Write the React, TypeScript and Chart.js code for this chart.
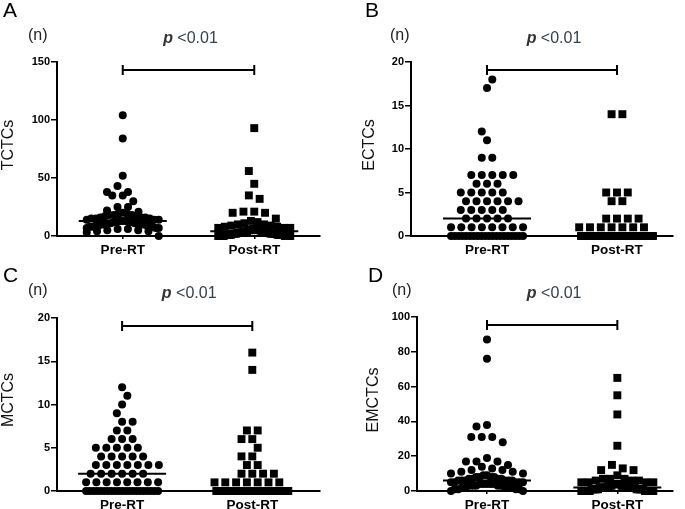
import React, { useEffect, useRef } from "react";
import { Chart, registerables } from "chart.js";
Chart.register(...registerables);

const categories = ["Pre-RT", "Post-RT"];

// Panel A: TCTCs
const tctcPre = [104, 84, 52, 43, 38, 38, 35, 35, 30, 25, 25, 22, 21, 20, 19, 19, 18, 18, 18, 17, 17, 16, 16, 16, 15, 15, 15, 14, 14, 14, 13, 13, 13, 12, 12, 12, 12, 11, 11, 11, 11, 10, 10, 10, 10, 9, 9, 9, 9, 8, 8, 8, 7, 7, 7, 6, 6, 5, 5, 4, 4, 3, 0];
const tctcPost = [93, 56, 45, 35, 32, 21, 21, 20, 20, 15, 13, 12, 11, 10, 10, 9, 9, 8, 8, 7, 7, 7, 6, 6, 6, 5, 5, 5, 5, 4, 4, 4, 4, 4, 3, 3, 3, 3, 3, 3, 2, 2, 2, 2, 2, 2, 2, 1, 1, 1, 1, 1, 1, 1, 1, 0, 0, 0, 0, 0, 0, 0, 0];

// Panel B: ECTCs
const ectcPre = [18, 17, 12, 11, 9, 9, 7, 7, 7, 7, 7, 6, 6, 6, 5, 5, 5, 5, 5, 4, 4, 4, 4, 4, 4, 3, 3, 3, 3, 3, 2, 2, 2, 2, 2, 1, 1, 1, 1, 1, 1, 1, 1, 0, 0, 0, 0, 0, 0, 0, 0, 0, 0, 0, 0, 0, 0, 0, 0, 0, 0, 0, 0];
const ectcPost = [14, 14, 5, 5, 5, 4, 4, 2, 2, 2, 2, 1, 1, 1, 1, 1, 1, 1, 0, 0, 0, 0, 0, 0, 0, 0, 0, 0, 0, 0, 0, 0, 0, 0, 0, 0, 0, 0, 0, 0, 0, 0, 0, 0, 0, 0, 0, 0, 0, 0, 0, 0, 0, 0, 0, 0, 0, 0, 0, 0, 0, 0, 0];

// Panel C: MCTCs
const mctcPre = [12, 11, 10, 9, 8, 8, 7, 7, 6, 6, 6, 5, 5, 5, 5, 5, 4, 4, 4, 4, 4, 3, 3, 3, 3, 3, 3, 3, 2, 2, 2, 2, 2, 2, 1, 1, 1, 1, 1, 1, 1, 1, 0, 0, 0, 0, 0, 0, 0, 0, 0, 0, 0, 0, 0, 0, 0, 0, 0, 0, 0, 0, 0];
const mctcPost = [16, 14, 7, 7, 6, 6, 5, 4, 4, 3, 3, 2, 2, 2, 2, 1, 1, 1, 1, 1, 1, 1, 0, 0, 0, 0, 0, 0, 0, 0, 0, 0, 0, 0, 0, 0, 0, 0, 0, 0, 0, 0, 0, 0, 0, 0, 0, 0, 0, 0, 0, 0, 0, 0, 0, 0, 0, 0, 0, 0, 0, 0, 0];

// Panel D: EMCTCs
const emctcPre = [87, 76, 38, 37, 31, 31, 31, 28, 19, 17, 17, 17, 15, 14, 13, 12, 12, 11, 11, 10, 10, 9, 9, 8, 8, 8, 8, 7, 7, 7, 7, 6, 6, 6, 6, 6, 6, 5, 5, 5, 5, 5, 4, 4, 4, 4, 4, 3, 3, 3, 3, 3, 2, 2, 2, 2, 2, 1, 1, 1, 1, 0, 0];
const emctcPost = [65, 55, 44, 26, 15, 13, 12, 12, 9, 7, 7, 7, 6, 6, 6, 5, 5, 5, 5, 4, 4, 4, 4, 4, 3, 3, 3, 3, 3, 3, 3, 2, 2, 2, 2, 2, 2, 2, 2, 2, 2, 1, 1, 1, 1, 1, 1, 1, 1, 1, 1, 0, 0, 0, 0, 0, 0, 0, 0, 0, 0, 0, 0];

const yTicksA = [0, 50, 100, 150];
const yTicksBC = [0, 5, 10, 15, 20];
const yTicksD = [0, 20, 40, 60, 80, 100];

const FONT = '"Liberation Sans", Arial, Helvetica, sans-serif';

type Layout = {
  left: number; top: number; width: number; height: number;
  area: { left: number; top: number; right: number; bottom: number };
  xMin: number; xMax: number;
  letterX: number; letterY: number; nX: number; titleX: number;
};

type PanelDef = {
  letter: string; title: string; pre: number[]; post: number[]; yTicks: number[]; layout: Layout;
};

const panels: PanelDef[] = [
  {
    letter: "A", title: "TCTCs", pre: tctcPre, post: tctcPost, yTicks: yTicksA,
    layout: { left: 0, top: 0, width: 342, height: 265, area: { left: 57, top: 62, right: 320, bottom: 236 }, xMin: 0.5, xMax: 2.5, letterX: 3, letterY: 17, nX: 28, titleX: 9 },
  },
  {
    letter: "B", title: "ECTCs", pre: ectcPre, post: ectcPost, yTicks: yTicksBC,
    layout: { left: 342, top: 0, width: 343, height: 265, area: { left: 69, top: 62, right: 331, bottom: 236 }, xMin: 0.415, xMax: 2.431, letterX: 23, letterY: 17, nX: 48, titleX: 28 },
  },
  {
    letter: "C", title: "MCTCs", pre: mctcPre, post: mctcPost, yTicks: yTicksBC,
    layout: { left: 0, top: 255, width: 342, height: 254, area: { left: 57, top: 63, right: 320, bottom: 236 }, xMin: 0.5, xMax: 2.52, letterX: 3, letterY: 27, nX: 28, titleX: 9 },
  },
  {
    letter: "D", title: "EMCTCs", pre: emctcPre, post: emctcPost, yTicks: yTicksD,
    layout: { left: 342, top: 255, width: 343, height: 254, area: { left: 75, top: 62, right: 331, bottom: 236 }, xMin: 0.463, xMax: 2.427, letterX: 26, letterY: 27, nX: 50, titleX: 32 },
  },
];

function median(vals: number[]) {
  const s = [...vals].sort((a, b) => a - b);
  const n = s.length;
  return n % 2 ? s[(n - 1) / 2] : (s[n / 2 - 1] + s[n / 2]) / 2;
}

// GraphPad-like scatter dot layout: bin by pixel height, spread each bin horizontally,
// offsetting adjacent rows by half a slot so that dots interleave.
function swarm(values: number[], center: number, pxY: number, pxX: number, spacing: number, maxHalf: number, binPx: number) {
  const sorted = [...values].sort((a, b) => a - b);
  const bins: number[][] = [];
  let cur: number[] = [];
  let start = 0;
  for (const v of sorted) {
    if (cur.length && (v - start) * pxY < binPx) cur.push(v);
    else {
      if (cur.length) bins.push(cur);
      cur = [v];
      start = v;
    }
  }
  if (cur.length) bins.push(cur);
  const pts: { x: number; y: number }[] = [];
  let prevSlots: number[] = [];
  let prevY = -Infinity;
  let flip = -1;
  for (const bin of bins) {
    const n = bin.length;
    const s = n > 1 ? Math.min(spacing, (2 * maxHalf) / (n - 1)) : 0;
    const base = Array.from({ length: n }, (_, i) => (i - (n - 1) / 2) * s);
    let shift = 0;
    const rowY = bin[0] * pxY;
    const uncompressed = n === 1 || s >= spacing - 0.01;
    if (uncompressed && prevSlots.length && rowY - prevY < binPx * 2.2 && ((n - 1) * spacing) / 2 + spacing / 2 <= maxHalf + 3) {
      const score = (sh: number) =>
        base.reduce((acc, b) => acc + Math.min(spacing / 2, Math.min(...prevSlots.map((p) => Math.abs(p - (b + sh))))), 0);
      const cands = [0, (flip * spacing) / 2, (-flip * spacing) / 2];
      let best = 0;
      let bestScore = -1;
      for (const c of cands) {
        const sc = score(c);
        if (sc > bestScore + 0.01) {
          bestScore = sc;
          best = c;
        }
      }
      shift = best;
      if (shift !== 0) flip = -flip;
    }
    const slots = base.map((b) => b + shift);
    const order = slots.map((_, i) => i).sort((a, b) => Math.abs(slots[a]) - Math.abs(slots[b]) || slots[a] - slots[b]);
    const desc = [...bin].sort((a, b) => b - a);
    desc.forEach((v, k) => pts.push({ x: center + slots[order[k]] / pxX, y: v }));
    prevSlots = slots;
    prevY = bin[bin.length - 1] * pxY;
  }
  return pts;
}

const annotPlugin = {
  id: "annot",
  afterDatasetsDraw(chart: any, _args: any, opts: any) {
    const { ctx, chartArea } = chart;
    const x = chart.scales.x;
    const y = chart.scales.y;
    const L: Layout = opts.layout;
    ctx.save();
    ctx.strokeStyle = "#000";
    ctx.lineWidth = 2;
    // median lines
    [[opts.pre, 1], [opts.post, 2]].forEach(([vals, c]: any) => {
      const py = y.getPixelForValue(median(vals));
      const px = x.getPixelForValue(c);
      ctx.beginPath();
      ctx.moveTo(px - 44, py);
      ctx.lineTo(px + 44, py);
      ctx.stroke();
    });
    // significance bracket
    const x1 = x.getPixelForValue(1);
    const x2 = x.getPixelForValue(2);
    const by = chartArea.top + 8;
    ctx.beginPath();
    ctx.moveTo(x1, by);
    ctx.lineTo(x2, by);
    ctx.moveTo(x1, by - 5);
    ctx.lineTo(x1, by + 5);
    ctx.moveTo(x2, by - 5);
    ctx.lineTo(x2, by + 5);
    ctx.stroke();

    // p-value text
    const pFont = `italic bold 16px ${FONT}`;
    const rFont = `16px ${FONT}`;
    ctx.font = pFont;
    const wp = ctx.measureText("p").width;
    ctx.font = rFont;
    const rest = " <0.01";
    const wr = ctx.measureText(rest).width;
    const cx = (x1 + x2) / 2 + 2;
    const sx = cx - (wp + wr) / 2;
    ctx.textBaseline = "alphabetic";
    ctx.textAlign = "left";
    ctx.font = pFont;
    ctx.fillStyle = "#333";
    ctx.fillText("p", sx, 43);
    ctx.font = rFont;
    ctx.fillStyle = "#34404f";
    ctx.fillText(rest, sx + wp, 43);

    // (n)
    ctx.fillStyle = "#222";
    ctx.font = `16px ${FONT}`;
    ctx.textBaseline = "middle";
    ctx.fillText("(n)", L.nX, 36);

    // panel letter
    ctx.fillStyle = "#000";
    ctx.font = `21px ${FONT}`;
    ctx.textBaseline = "alphabetic";
    ctx.fillText(opts.letter, L.letterX, L.letterY);

    // y-axis title
    ctx.save();
    ctx.translate(L.titleX, 145);
    ctx.rotate(-Math.PI / 2);
    ctx.font = `16px ${FONT}`;
    ctx.textAlign = "center";
    ctx.textBaseline = "middle";
    ctx.fillStyle = "#111";
    ctx.fillText(opts.title, 0, 0);
    ctx.restore();

    ctx.restore();
  },
};

function Panel({ def }: { def: PanelDef }) {
  const ref = useRef<HTMLCanvasElement | null>(null);
  useEffect(() => {
    const L = def.layout;
    const A = L.area;
    const yMax = def.yTicks[def.yTicks.length - 1];
    const pxX = (A.right - A.left) / (L.xMax - L.xMin);
    const pxY = (A.bottom - A.top) / yMax;
    const prePts = swarm(def.pre, 1, pxY, pxX, 10.5, 36, 7);
    const postPts = swarm(def.post, 2, pxY, pxX, 10.8, 36, 7);
    const chart = new Chart(ref.current as HTMLCanvasElement, {
      type: "scatter",
      data: {
        datasets: [
          { data: prePts, pointStyle: "circle", pointRadius: 4, pointHoverRadius: 4, backgroundColor: "#000", borderWidth: 0, clip: false } as any,
          { data: postPts, pointStyle: "rect", pointRadius: 5.6, pointHoverRadius: 5.6, backgroundColor: "#000", borderWidth: 0, clip: false } as any,
        ],
      },
      options: {
        animation: false,
        responsive: false,
        maintainAspectRatio: false,
        events: [],
        layout: { padding: { left: 0, top: A.top, right: L.width - A.right, bottom: 0 } },
        plugins: {
          legend: { display: false },
          tooltip: { enabled: false },
          annot: { layout: L, pre: def.pre, post: def.post, letter: def.letter, title: def.title },
        } as any,
        scales: {
          x: {
            type: "linear",
            min: L.xMin,
            max: L.xMax,
            afterBuildTicks: (s: any) => {
              s.ticks = [{ value: 1 }, { value: 2 }];
            },
            afterFit: (s: any) => {
              s.height = L.height - A.bottom;
            },
            ticks: {
              autoSkip: false,
              maxRotation: 0,
              padding: 3,
              color: "#000",
              font: { family: FONT, size: 13.5, weight: "bold" },
              callback: (v: any) => (v === 1 ? categories[0] : v === 2 ? categories[1] : ""),
            },
            grid: { display: true, drawOnChartArea: false, drawTicks: true, tickLength: 3, color: "#000", lineWidth: 1.5 },
            border: { display: true, color: "#000", width: 2 },
          } as any,
          y: {
            type: "linear",
            min: 0,
            max: yMax,
            afterBuildTicks: (s: any) => {
              s.ticks = def.yTicks.map((v) => ({ value: v }));
            },
            afterFit: (s: any) => {
              s.width = A.left;
            },
            ticks: {
              padding: 1,
              color: "#000",
              font: { family: FONT, size: 11, weight: "bold" },
            },
            grid: { display: true, drawOnChartArea: false, drawTicks: true, tickLength: 6, color: "#000", lineWidth: 1.5 },
            border: { display: true, color: "#000", width: 2 },
          } as any,
        },
      },
      plugins: [annotPlugin as any],
    });
    return () => chart.destroy();
  }, [def]);
  const L = def.layout;
  return (
    <canvas
      ref={ref}
      width={L.width}
      height={L.height}
      style={{ position: "absolute", left: L.left, top: L.top, width: L.width, height: L.height }}
    />
  );
}

export default function App() {
  return (
    <div style={{ position: "absolute", left: 0, top: 0, width: 685, height: 509, background: "#fff", overflow: "hidden" }}>
      {panels.map((p) => (
        <Panel key={p.letter} def={p} />
      ))}
    </div>
  );
}
